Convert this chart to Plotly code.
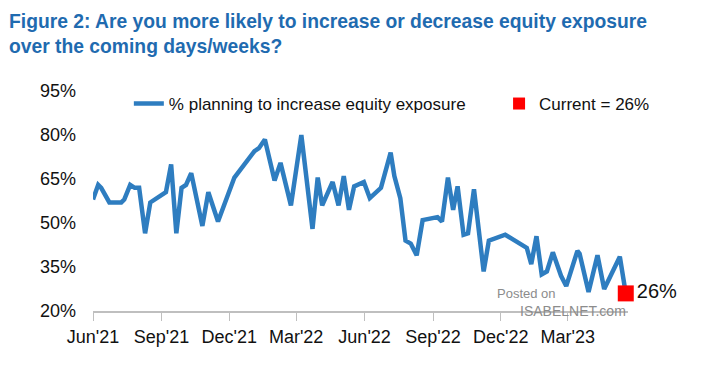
import plotly.graph_objects as go

# ---- data ----
dates = [
    "2021-06-01", "2021-06-08", "2021-06-12", "2021-06-23", "2021-07-09", "2021-07-13",
    "2021-07-21", "2021-07-27", "2021-08-02", "2021-08-10", "2021-08-17", "2021-09-07",
    "2021-09-14", "2021-09-21", "2021-09-28", "2021-10-04", "2021-10-11", "2021-10-26",
    "2021-11-03", "2021-11-16", "2021-12-08", "2022-01-04", "2022-01-10", "2022-01-18",
    "2022-01-31", "2022-02-08", "2022-02-22", "2022-03-08", "2022-03-23", "2022-03-30",
    "2022-04-05", "2022-04-19", "2022-04-27", "2022-05-04", "2022-05-11", "2022-05-18",
    "2022-05-31", "2022-06-08", "2022-06-23", "2022-07-06", "2022-07-11", "2022-07-19",
    "2022-07-26", "2022-08-02", "2022-08-10", "2022-08-18", "2022-09-07", "2022-09-13",
    "2022-09-21", "2022-09-28", "2022-10-04", "2022-10-12", "2022-10-18", "2022-10-26",
    "2022-11-08", "2022-11-15", "2022-12-07", "2023-01-05", "2023-01-11", "2023-01-18",
    "2023-01-25", "2023-02-01", "2023-02-09", "2023-02-20", "2023-02-27", "2023-03-14",
    "2023-03-17", "2023-03-29", "2023-04-10", "2023-04-19", "2023-05-10", "2023-05-18",
]
pct_increase = [
    58, 63, 62, 57, 57, 58,
    63, 62, 62, 46.5, 57, 60.5,
    70, 46.5, 62, 63, 67, 49,
    60.5, 50.5, 65.5, 74.5, 75.5, 78.5,
    64.5, 70.5, 56, 80, 48, 65.5,
    56, 64, 56, 66, 54.5, 62.5,
    64, 58.5, 62, 74, 66, 58.5,
    44, 43, 39, 51, 52, 50.5,
    65.5, 54.5, 62.5, 46, 46.5, 61.5,
    33.5, 44, 46, 41.5, 36, 45.5,
    32.5, 33.5, 40, 32, 28.5, 40.5,
    39.5, 26.5, 39, 27.5, 38.5, 26,
]
current_date = ["2023-05-18"]
current_value = [26]

tick_vals = ["2021-06-01", "2021-09-01", "2021-12-01", "2022-03-01",
             "2022-06-01", "2022-09-01", "2022-12-01", "2023-03-01"]
tick_text = ["Jun'21", "Sep'21", "Dec'21", "Mar'22", "Jun'22", "Sep'22", "Dec'22", "Mar'23"]
y_ticks = [20, 35, 50, 65, 80, 95]
y_tick_text = [f"{v}%" for v in y_ticks]

FONT = "Liberation Sans, Arial, sans-serif"

fig = go.Figure()
fig.add_trace(go.Scatter(
    x=dates, y=pct_increase, mode="lines",
    name="% planning to increase equity exposure",
    line=dict(color="#2E7DC0", width=4.5),
    legend="legend", showlegend=True,
))
fig.add_trace(go.Scatter(
    x=current_date, y=current_value, mode="markers+text",
    name="Current = 26%",
    marker=dict(symbol="square", color="#FF0000", size=16),
    text=[f"{v}%" for v in current_value], textposition="middle right",
    textfont=dict(size=20, color="#111111", family=FONT),
    cliponaxis=False,
    legend="legend2", showlegend=True,
))

fig.update_layout(
    width=696, height=359,
    margin=dict(l=85, r=76, t=83, b=56),
    paper_bgcolor="white", plot_bgcolor="white",
    font=dict(family=FONT, size=18, color="#111111"),
    showlegend=True,
    legend=dict(
        x=0.067, y=0.941, xanchor="left", yanchor="middle",
        bgcolor="rgba(0,0,0,0)", font=dict(size=17, family=FONT),
        orientation="h",
    ),
    legend2=dict(
        x=0.759, y=0.941, xanchor="left", yanchor="middle",
        bgcolor="rgba(0,0,0,0)", font=dict(size=17, family=FONT),
        orientation="h", itemsizing="constant",
    ),
    xaxis=dict(
        type="date", range=["2021-06-01", "2023-05-21"],
        tickvals=tick_vals, ticktext=tick_text,
        showgrid=False, zeroline=False,
        showline=True, linecolor="#BFBFBF", linewidth=2,
        ticks="outside", ticklen=8, tickcolor="#BFBFBF", tickwidth=1,
        tickfont=dict(size=18, family=FONT),
    ),
    yaxis=dict(
        range=[20, 95], tickvals=y_ticks, ticktext=y_tick_text,
        showgrid=False, zeroline=False, showline=False,
        ticklabelstandoff=16,
        tickfont=dict(size=18, family=FONT),
    ),
    annotations=[
        dict(text="<b>Figure 2: Are you more likely to increase or decrease equity exposure<br>over the coming days/weeks?</b>",
             xref="paper", yref="paper", x=-0.16, y=1.375,
             xanchor="left", yanchor="top", align="left", showarrow=False,
             font=dict(size=19.3, color="#1F6BB0", family=FONT)),
        dict(text="Posted on", xref="paper", yref="paper", x=0.751, y=0.08,
             xanchor="left", yanchor="middle", showarrow=False,
             font=dict(size=13, color="#8C8C8C", family=FONT)),
        dict(text="ISABELNET.com", xref="paper", yref="paper", x=0.795, y=0.0,
             xanchor="left", yanchor="middle", showarrow=False,
             font=dict(size=14, color="#8C8C8C", family=FONT)),
    ],
)

fig.write_html("out.html")
